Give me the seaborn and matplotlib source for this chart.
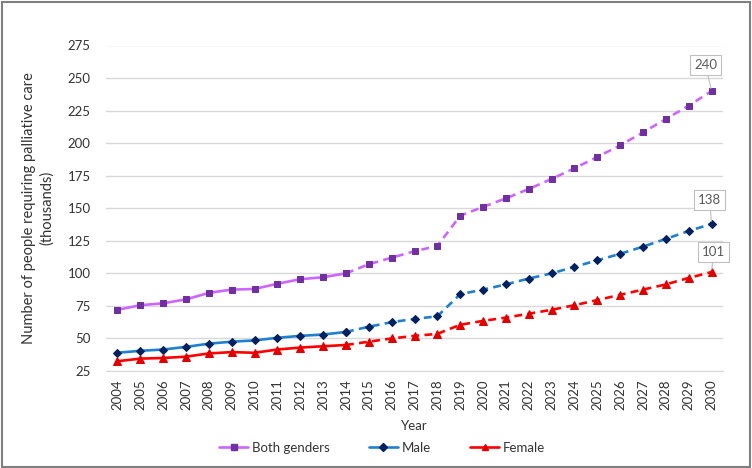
import pandas as pd
import seaborn as sns
import matplotlib.pyplot as plt
from matplotlib.patches import Rectangle
from matplotlib.lines import Line2D

years = list(range(2004, 2031))
both = [72, 75.5, 77, 80, 85, 87.5, 88, 92, 95.5, 97, 100, 107, 112, 117, 121,
        144.3, 151, 157.6, 164.8, 172.5, 180.7, 189.4, 198.3, 208.3, 218.5, 228.8, 240]
male = [39, 40.5, 41.5, 43.5, 46, 47.5, 48.5, 50.5, 52, 53, 55, 59, 62.5, 65, 67,
        84, 87.5, 91.5, 96, 100, 105, 110, 115, 120.5, 126.5, 132.5, 138]
female = [32.5, 34.5, 35, 36, 38.5, 39.5, 39, 41.5, 43, 44, 45, 47.5, 50, 52, 53.5,
          60.5, 63.5, 66, 69, 72, 75.5, 79.5, 83.5, 87.5, 91.5, 96.5, 101]
split_year = 2014
labels = ["Both genders", "Male", "Female"]

sns.set_style("white")
plt.rcParams['font.family'] = ['Lato', 'DejaVu Sans']

df = pd.DataFrame({'year': years, 'Both genders': both, 'Male': male, 'Female': female})
hist = df[df['year'] <= split_year]
proj = df[df['year'] >= split_year]

styles = {
    'Both genders': dict(line='#cc66ff', mk='#7030a0', marker='s', ms=5),
    'Male': dict(line='#1f80d0', mk='#002060', marker='D', ms=4.3),
    'Female': dict(line='#ff0000', mk='#e00000', marker='^', ms=5.5),
}
LW = 1.9

fig = plt.figure(figsize=(7.52, 4.68), dpi=100)
ax = fig.add_axes([106 / 752, 1 - 371 / 468, (723 - 106) / 752, (371 - 45.5) / 468])

for name in labels:
    s = styles[name]
    sns.lineplot(data=hist, x='year', y=name, ax=ax, color=s['line'], lw=LW,
                 marker=s['marker'], markersize=s['ms'], markerfacecolor=s['mk'],
                 markeredgecolor=s['mk'], zorder=3)
    sns.lineplot(data=proj, x='year', y=name, ax=ax, color=s['line'], lw=LW,
                 linestyle=(0, (3, 2)), marker=s['marker'], markersize=s['ms'],
                 markerfacecolor=s['mk'], markeredgecolor=s['mk'], zorder=3)

ax.set_xlim(2003.5, 2030.5)
ax.set_ylim(25, 275)
ax.set_yticks(range(25, 276, 25))
ax.set_xticks(years)
ax.set_xticklabels([str(y) for y in years], rotation=90)
ax.tick_params(axis='y', labelsize=9.5, colors='#333333', length=0, pad=11)
ax.tick_params(axis='x', labelsize=9.5, colors='#333333', length=0, pad=6)
ax.grid(axis='y', color='#d9d9d9', lw=1)
for sp in ['top', 'right', 'left']:
    ax.spines[sp].set_visible(False)
ax.spines['bottom'].set_color('#d9d9d9')
ax.set_axisbelow(True)

ax.set_xlabel('Year', fontsize=9.5, color='#333333', labelpad=7)
ax.set_ylabel('Number of people requiring palliative care\n(thousands)',
              fontsize=10.5, color='#333333', labelpad=10, linespacing=1.3)

# end-value callouts
callouts = [(both[-1], (-6, 26)), (male[-1], (-2, 24)), (female[-1], (2, 20))]
for val, off in callouts:
    ax.annotate(f"{val:.0f}", xy=(years[-1], val), xytext=off, textcoords='offset pixels',
                ha='center', va='center', fontsize=9.5, color='#595959',
                bbox=dict(boxstyle='square,pad=0.3', fc='white', ec='#bfbfbf', lw=0.8),
                arrowprops=dict(arrowstyle='-', color='#bfbfbf', lw=0.8,
                                shrinkA=0, shrinkB=2))

handles = [Line2D([], [], color=styles[n]['line'], lw=LW, marker=styles[n]['marker'],
                  markersize=styles[n]['ms'] * 0.85, markerfacecolor=styles[n]['mk'],
                  markeredgecolor=styles[n]['mk']) for n in labels]
fig.legend(handles, labels, loc='center', bbox_to_anchor=(0.508, 0.043), ncol=3,
           frameon=False, fontsize=9.5, handlelength=2.2, columnspacing=3.0,
           handletextpad=0.25, labelcolor='#333333')

fig.patches.append(Rectangle((0.002, 0.003), 0.995, 0.993, transform=fig.transFigure,
                             fill=False, ec='#7f7f7f', lw=1.5))

fig.savefig('out.png', dpi=100)
